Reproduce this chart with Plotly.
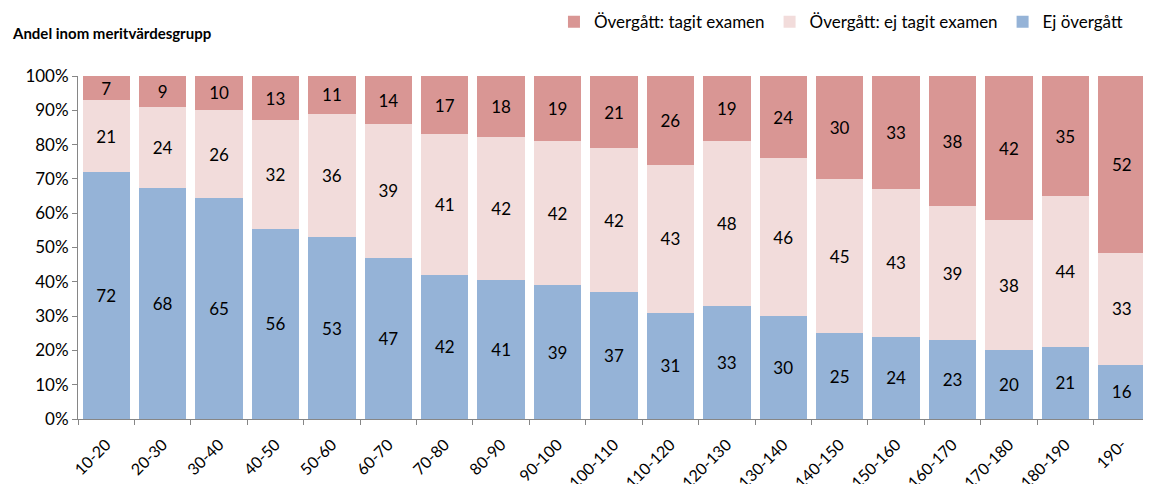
import plotly.graph_objects as go

categories = ["10-20", "20-30", "30-40", "40-50", "50-60", "60-70", "70-80", "80-90", "90-100",
              "100-110", "110-120", "120-130", "130-140", "140-150", "150-160", "160-170",
              "170-180", "180-190", "190-"]
ej_overgatt = [72, 68, 65, 56, 53, 47, 42, 41, 39, 37, 31, 33, 30, 25, 24, 23, 20, 21, 16]
overgatt_ej_examen = [21, 24, 26, 32, 36, 39, 41, 42, 42, 42, 43, 48, 46, 45, 43, 39, 38, 44, 33]
overgatt_examen = [7, 9, 10, 13, 11, 14, 17, 18, 19, 21, 26, 19, 24, 30, 33, 38, 42, 35, 52]

FONT = "Lato, Liberation Sans, sans-serif"

fig = go.Figure()
series = [
    ("Ej övergått", ej_overgatt, "#95B3D7"),
    ("Övergått: ej tagit examen", overgatt_ej_examen, "#F2DCDB"),
    ("Övergått: tagit examen", overgatt_examen, "#D99694"),
]
for name, vals, col in series:
    fig.add_trace(go.Bar(
        x=categories, y=vals, name=name,
        marker=dict(color=col, line=dict(width=0)),
        text=[str(v) for v in vals], textposition="inside", insidetextanchor="middle",
        textfont=dict(family=FONT, size=17, color="black"),
        textangle=0, constraintext="none",
    ))

fig.update_layout(
    barmode="stack", barnorm="percent", bargap=0.16,
    width=1143, height=476,
    margin=dict(l=70, r=1, t=68, b=65, autoexpand=False),
    paper_bgcolor="white", plot_bgcolor="white",
    font=dict(family=FONT, size=17, color="black"),
    uniformtext=dict(minsize=17, mode="show"),
    legend=dict(orientation="h", traceorder="reversed", x=0.444, xanchor="left",
                y=1.157, yanchor="middle", itemwidth=30,
                font=dict(family=FONT, size=17),
                bgcolor="rgba(0,0,0,0)"),
    xaxis=dict(tickangle=-45, showline=True, linecolor="#868686", linewidth=1,
               ticks="outside", tickson="boundaries", ticklen=5, tickcolor="#868686",
               tickfont=dict(family=FONT, size=16), showgrid=False, automargin=False,
               ticklabelstandoff=9),
    yaxis=dict(range=[0, 100], dtick=10, ticksuffix="%", showline=True, linecolor="#868686",
               linewidth=1, ticks="outside", ticklen=5, tickcolor="#868686", showgrid=False,
               tickfont=dict(family=FONT, size=17), zeroline=False, automargin=False),
    annotations=[dict(text="<b>Andel inom meritvärdesgrupp</b>", xref="paper", yref="paper",
                      x=-0.063, y=1.125, xanchor="left", yanchor="middle", showarrow=False,
                      font=dict(family=FONT, size=15))],
)

fig.write_html("out.html")
